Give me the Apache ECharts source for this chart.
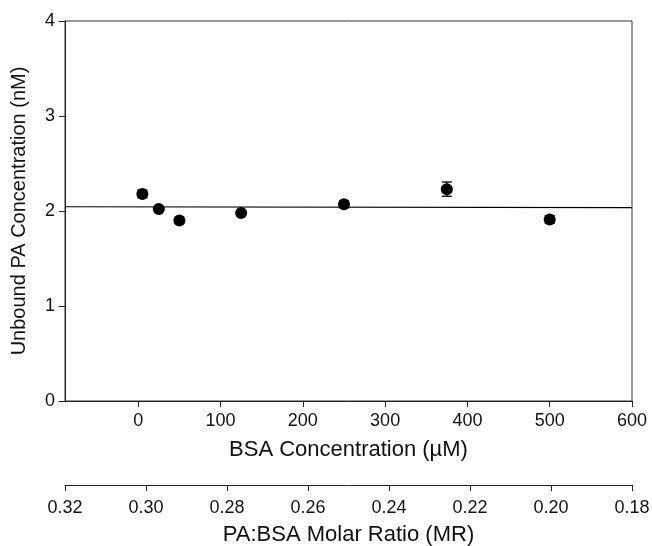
<!DOCTYPE html>
<html>
<head>
<meta charset="utf-8">
<script src="https://cdn.jsdelivr.net/npm/echarts@6/dist/echarts.min.js"></script>
<style>
  html, body { margin: 0; padding: 0; background: #fff; }
  #chart { width: 652px; height: 546px; }
</style>
</head>
<body>
<div id="chart"></div>
<script>
// BSA concentration (µM) for each measurement
const bsaConc = [5, 25, 50, 125, 250, 375, 500];
// Mean unbound PA concentration (nM)
const unboundPA = [2.18, 2.02, 1.90, 1.98, 2.07, 2.23, 1.91];
// Standard error for each mean (nM)
const unboundErr = [0.04, 0.025, 0.025, 0.025, 0.035, 0.075, 0.04];
// Fitted line endpoints: [BSA µM, nM]
const fitLine = [[-89, 2.045], [600, 2.035]];
// Tick values
const bsaTicks = [0, 100, 200, 300, 400, 500, 600];
const unboundTicks = [0, 1, 2, 3, 4];
const ratioTicks = [0.18, 0.20, 0.22, 0.24, 0.26, 0.28, 0.30, 0.32];

const FONT = 'Liberation Sans, Arial, sans-serif';
const INK = '#111';

const chart = echarts.init(document.getElementById('chart'), null, { renderer: 'canvas' });

const points = bsaConc.map((x, i) => [x, unboundPA[i]]);
const errData = bsaConc.map((x, i) => [x, unboundPA[i] - unboundErr[i], unboundPA[i] + unboundErr[i]]);

chart.setOption({
  animation: false,
  backgroundColor: '#fff',
  grid: [
    { left: 65, right: 20, top: 21, height: 380, outerBoundsMode: 'none', containLabel: false,
      show: true, borderColor: '#333', borderWidth: 1, backgroundColor: 'transparent' },
    { left: 65, right: 20, top: 484, height: 1, outerBoundsMode: 'none', containLabel: false, show: false }
  ],
  xAxis: [
    {
      gridIndex: 0, type: 'value', min: -89, max: 600,
      name: 'BSA Concentration (\u00B5M)', nameLocation: 'middle', nameGap: 38,
      nameTextStyle: { fontFamily: FONT, fontSize: 22, color: INK },
      axisLine: { show: true, onZero: false, lineStyle: { color: '#222', width: 1 } },
      axisTick: { show: true, inside: false, length: 6, customValues: bsaTicks, lineStyle: { color: '#222' } },
      axisLabel: { customValues: bsaTicks, fontFamily: FONT, fontSize: 18, color: INK, margin: 11 },
      splitLine: { show: false }
    },
    {
      gridIndex: 1, type: 'value', min: 0.18, max: 0.32, inverse: true,
      position: 'bottom',
      name: 'PA:BSA Molar Ratio (MR)', nameLocation: 'middle', nameGap: 39,
      nameTextStyle: { fontFamily: FONT, fontSize: 22, color: INK },
      axisLine: { show: true, onZero: false, lineStyle: { color: '#222', width: 1 } },
      axisTick: { show: true, length: 6, customValues: ratioTicks, lineStyle: { color: '#222' } },
      axisLabel: {
        customValues: ratioTicks, fontFamily: FONT, fontSize: 18, color: INK, margin: 14,
        formatter: v => v.toFixed(2)
      },
      splitLine: { show: false }
    }
  ],
  yAxis: [
    {
      gridIndex: 0, type: 'value', min: 0, max: 4, interval: 1,
      name: 'Unbound PA Concentration (nM)', nameLocation: 'middle', nameGap: 36,
      nameTextStyle: { fontFamily: FONT, fontSize: 20, color: INK },
      axisLine: { show: true, onZero: false, lineStyle: { color: '#222', width: 1 } },
      axisTick: { show: true, length: 6, lineStyle: { color: '#222' } },
      axisLabel: { fontFamily: FONT, fontSize: 18, color: INK, margin: 10 },
      splitLine: { show: false }
    },
    {
      gridIndex: 1, type: 'value', show: false
    }
  ],
  series: [
    {
      name: 'fit', type: 'line', xAxisIndex: 0, yAxisIndex: 0,
      data: fitLine, showSymbol: false, symbol: 'none',
      lineStyle: { color: '#000', width: 1.2 }, silent: true, z: 2
    },
    {
      name: 'error', type: 'custom', xAxisIndex: 0, yAxisIndex: 0,
      data: errData, z: 3,
      renderItem: (params, api) => {
        const x = api.value(0);
        const lo = api.coord([x, api.value(1)]);
        const hi = api.coord([x, api.value(2)]);
        const cap = 5;
        const style = { stroke: '#000', lineWidth: 1.3 };
        return {
          type: 'group',
          children: [
            { type: 'line', shape: { x1: lo[0], y1: lo[1], x2: hi[0], y2: hi[1] }, style },
            { type: 'line', shape: { x1: lo[0] - cap, y1: lo[1], x2: lo[0] + cap, y2: lo[1] }, style },
            { type: 'line', shape: { x1: hi[0] - cap, y1: hi[1], x2: hi[0] + cap, y2: hi[1] }, style }
          ]
        };
      }
    },
    {
      name: 'unbound', type: 'scatter', xAxisIndex: 0, yAxisIndex: 0,
      data: points, symbol: 'circle', symbolSize: 12,
      itemStyle: { color: '#000', opacity: 1 }, z: 4
    }
  ]
});
</script>
</body>
</html>
